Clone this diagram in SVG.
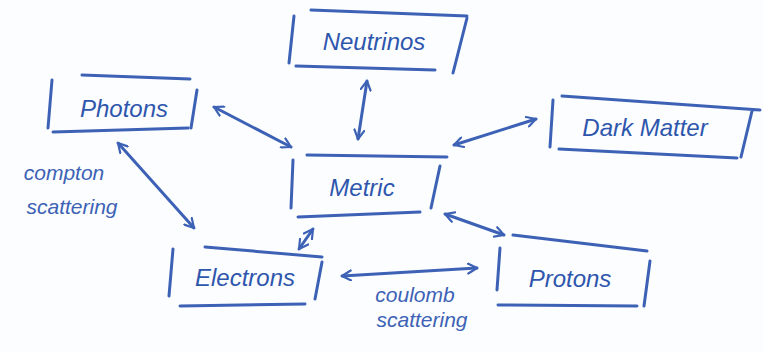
<svg xmlns="http://www.w3.org/2000/svg" width="763" height="352" viewBox="0 0 763 352">
<style>
.ink{fill:none;stroke:#3d62b5;stroke-width:3;stroke-linecap:round;stroke-linejoin:round}
.lbl{font-family:"Liberation Sans",Arial,sans-serif;font-style:italic;font-size:24px;fill:#2f56ad;text-anchor:middle}
.note{font-family:"Liberation Sans",Arial,sans-serif;font-style:italic;font-size:21px;fill:#3d62b5;text-anchor:middle}
</style>
<defs>
<marker id="ah" viewBox="0 0 12 12" refX="10" refY="6" markerWidth="12" markerHeight="12" markerUnits="userSpaceOnUse" orient="auto-start-reverse">
<path d="M1,1 L10,6 L1,11" fill="none" stroke="#3d62b5" stroke-width="2.2" stroke-linecap="round" stroke-linejoin="round"/>
</marker>
</defs>
<rect width="763" height="352" fill="#fbfdff"/>
<g id="neutrinos">
<path class="ink" d="M294,16 L289,63 M311,10 L467,16 M296,66 L435,70 M467,18 L453,73"/>
<text class="lbl" x="374" y="50">Neutrinos</text>
</g>
<g id="photons">
<path class="ink" d="M52,80 L48,128 M82,75 L190,79 M53,132 L188,128 M197,90 L191,128"/>
<text class="lbl" x="124" y="117">Photons</text>
</g>
<g id="darkmatter">
<path class="ink" d="M553,100 L550,147 M562,96 L760,110 M559,149 L737,158 M752,111 L741,157"/>
<text class="lbl" x="645" y="136">Dark Matter</text>
</g>
<g id="metric">
<path class="ink" d="M293,160 L291,208 M307,155 L447,157 M298,217 L420,212 M440,166 L431,208"/>
<text class="lbl" x="362" y="196">Metric</text>
</g>
<g id="electrons">
<path class="ink" d="M173,249 L169,296 M205,247 L322,257 M180,306 L305,304 M322,262 L315,299"/>
<text class="lbl" x="245" y="286">Electrons</text>
</g>
<g id="protons">
<path class="ink" d="M500,248 L497,290 M513,235 L647,251 M498,305 L637,306 M650,261 L644,306"/>
<text class="lbl" x="570" y="287">Protons</text>
</g>
<g id="connectors">
<path class="ink" d="M214,107 L291,147" marker-start="url(#ah)" marker-end="url(#ah)"/>
<path class="ink" d="M367,81 L358,139" marker-start="url(#ah)" marker-end="url(#ah)"/>
<path class="ink" d="M454,145 L536,119" marker-start="url(#ah)" marker-end="url(#ah)"/>
<path class="ink" d="M118,143 L194,228" marker-start="url(#ah)" marker-end="url(#ah)"/>
<path class="ink" d="M313,229 L299,249" marker-start="url(#ah)" marker-end="url(#ah)"/>
<path class="ink" d="M445,214 L504,235" marker-start="url(#ah)" marker-end="url(#ah)"/>
<path class="ink" d="M342,276 L477,268" marker-start="url(#ah)" marker-end="url(#ah)"/>
</g>
<g id="labels">
<text class="note" x="64" y="180">compton</text>
<text class="note" x="72" y="214">scattering</text>
<text class="note" x="415" y="302">coulomb</text>
<text class="note" x="422" y="327">scattering</text>
</g>
</svg>
